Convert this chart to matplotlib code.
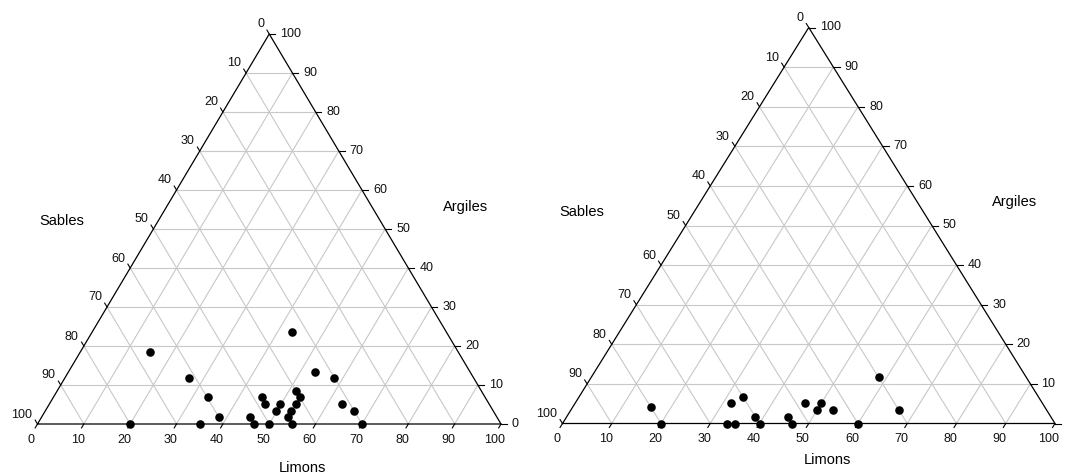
import numpy as np
import matplotlib
matplotlib.use("Agg")
import matplotlib.pyplot as plt
from matplotlib.transforms import offset_copy

plt.rcParams["font.family"] = ["Liberation Sans", "DejaVu Sans"]

# Données : Limons et Argiles (%), Sables = 100 - Limons - Argiles
limons_1 = np.array([43.2, 15.0, 26.7, 53.2, 58.2, 33.4, 45.0, 51.6, 53.2, 46.6,
                     49.8, 53.2, 49.8, 53.1, 63.2, 66.5, 38.4, 45.0, 53.3, 20.0,
                     35.0, 46.8, 50.0, 55.0, 70.0])
argiles_1 = np.array([23.5, 18.5, 11.8, 13.4, 11.7, 6.8, 6.8, 8.5, 6.8, 5.1,
                      5.1, 5.1, 3.4, 3.4, 5.1, 3.4, 1.7, 1.7, 1.7, 0.0,
                      0.0, 0.0, 0.0, 0.0, 0.0])
sables_1 = 100 - limons_1 - argiles_1

limons_2 = np.array([58.3, 15.8, 20.0, 31.7, 33.3, 33.3, 35.0, 38.2, 40.0, 45.0,
                     46.7, 46.7, 50.0, 50.0, 53.3, 60.0, 66.6])
argiles_2 = np.array([11.8, 4.2, 0.0, 5.1, 6.8, 0.0, 0.0, 1.7, 0.0, 1.7,
                      0.0, 5.1, 5.1, 3.4, 3.4, 0.0, 3.4])
sables_2 = 100 - limons_2 - argiles_2

graduations = np.arange(0, 101, 10)
titres = ["Sables", "Argiles", "Limons"]

W, H = 1067, 474
fig = plt.figure(figsize=(W / 100, H / 100), dpi=100)

grille = "#c8c8c8"


def tern(limons, argiles):
    # coordonnées cartésiennes : x = L + A/2, y = A
    return np.asarray(limons) + np.asarray(argiles) / 2, np.asarray(argiles)


def panneau(bl_x, br_x, base_y, apex_y, limons, argiles, pos_titres, zero_droite=True):
    ax = fig.add_axes([bl_x / W, (H - base_y) / H, (br_x - bl_x) / W, (base_y - apex_y) / H])
    ax.set_xlim(0, 100)
    ax.set_ylim(0, 100)
    ax.axis("off")

    # grille
    for v in graduations[1:-1]:
        x, y = tern([0, 100 - v], [v, v])
        ax.plot(x, y, color=grille, lw=0.8, zorder=1, clip_on=False)
        x, y = tern([v, v], [0, 100 - v])
        ax.plot(x, y, color=grille, lw=0.8, zorder=1, clip_on=False)
        x, y = tern([100 - v, 0], [0, 100 - v])
        ax.plot(x, y, color=grille, lw=0.8, zorder=1, clip_on=False)

    # contour
    x, y = tern([0, 100, 0, 0], [0, 0, 100, 0])
    ax.plot(x, y, color="black", lw=0.9, zorder=2, clip_on=False)

    kw = dict(fontsize=9, color="#111111", clip_on=False)
    for v in graduations:
        # Sables (côté gauche) : 0 en haut, 100 en bas
        x, y = tern(0, 100 - v)
        ax.plot([x, x - 0.5], [y, y + 1.0], color="black", lw=0.8, clip_on=False)
        tr = offset_copy(ax.transData, fig=fig, x=-5, y=9.5, units="dots")
        ax.text(x, y, str(v), transform=tr, ha="right", va="center", **kw)
        # Limons (bas)
        x, y = tern(v, 0)
        ax.plot([x, x - 0.5], [y, y - 1.0], color="black", lw=0.8, clip_on=False)
        tr = offset_copy(ax.transData, fig=fig, x=-6, y=-16, units="dots")
        ax.text(x, y, str(v), transform=tr, ha="center", va="center", **kw)
        # Argiles (côté droit)
        x, y = tern(100 - v, v)
        ax.plot([x, x + 1.25], [y, y], color="black", lw=0.8, clip_on=False)
        if v == 0 and not zero_droite:
            continue
        tr = offset_copy(ax.transData, fig=fig, x=11, y=0, units="dots")
        ax.text(x, y, str(v), transform=tr, ha="left", va="center", **kw)

    for t, (px, py) in zip(titres, pos_titres):
        ax.text(px, py, t, fontsize=10.5, ha="center", va="center", clip_on=False)

    x, y = tern(limons, argiles)
    ax.scatter(x, y, s=38, color="black", linewidths=0, zorder=3, clip_on=False)
    return ax


panneau(37.5, 501, 424, 34, limons_1, argiles_1,
        [(5.3, 52), (92.3, 55.6), (57.1, -11.4)])
panneau(562.5, 1055, 423.5, 27.5, limons_2, argiles_2,
        [(3.9, 53.5), (91.7, 56.0), (53.8, -9.3)], zero_droite=False)

fig.savefig("out.png", dpi=100)
